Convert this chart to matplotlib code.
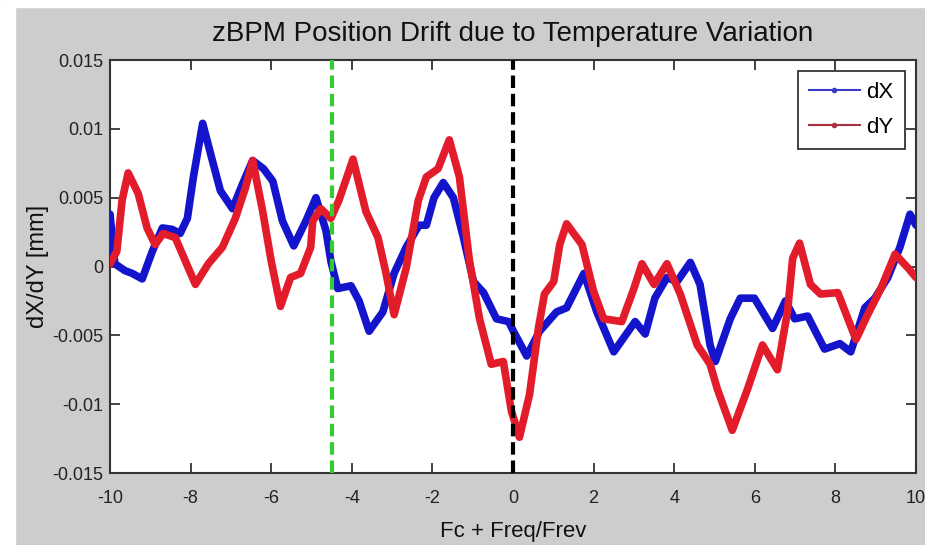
import numpy as np
import matplotlib.pyplot as plt
from matplotlib.lines import Line2D
from matplotlib.patches import Rectangle

# ---------------------data---------------------
x_dx = [-10, -9.88, -9.63, -9.45, -9.2, -8.95, -8.7, -8.46, -8.26, -8.08, -7.93, -7.7,
        -7.46, -7.26, -6.96, -6.71, -6.46, -6.19, -5.96, -5.72, -5.44, -5.14, -4.89,
        -4.64, -4.52, -4.35, -4.02, -3.82, -3.57, -3.23, -2.95, -2.65, -2.33, -2.15,
        -1.96, -1.73, -1.48, -1.23, -0.98, -0.73, -0.41, -0.11, 0.01, 0.34, 0.66, 1.08,
        1.33, 1.76, 2.08, 2.5, 3.03, 3.28, 3.52, 3.82, 4.07, 4.4, 4.64, 4.89, 5.02,
        5.39, 5.64, 5.99, 6.44, 6.76, 6.99, 7.31, 7.73, 8.11, 8.38, 8.73, 8.98, 9.3,
        9.6, 9.85, 10]
dx = [0.0038, 0.0002, -0.0003, -0.0005, -0.0009, 0.0011, 0.0028, 0.0027, 0.0024,
      0.0035, 0.0065, 0.0104, 0.0077, 0.0055, 0.0042, 0.006, 0.0077, 0.0071, 0.0062,
      0.0033, 0.0015, 0.0033, 0.005, 0.0026, 0.0004, -0.0016, -0.0014, -0.0025,
      -0.0047, -0.0033, -0.0005, 0.0014, 0.003, 0.003, 0.005, 0.0061, 0.005, 0.0021,
      -0.0011, -0.0019, -0.0038, -0.004, -0.0047, -0.0065, -0.0047, -0.0033, -0.003,
      -0.0005, -0.0033, -0.0062, -0.004, -0.0049, -0.0023, -0.0008, -0.0011, 0.0003,
      -0.0013, -0.0057, -0.0069, -0.0038, -0.0023, -0.0023, -0.0045, -0.0025, -0.0038,
      -0.0036, -0.006, -0.0056, -0.0062, -0.003, -0.0023, -0.0008, 0.0014, 0.0038,
      0.003]

x_dy = [-10, -9.83, -9.7, -9.55, -9.3, -9.08, -8.88, -8.68, -8.38, -8.13, -7.88, -7.56,
        -7.21, -6.89, -6.64, -6.46, -6.21, -6.0, -5.77, -5.52, -5.27, -5.02, -4.97,
        -4.77, -4.52, -4.32, -3.97, -3.65, -3.35, -3.15, -2.95, -2.65, -2.35, -2.15,
        -1.86, -1.58, -1.33, -1.08, -0.83, -0.54, -0.24, -0.04, 0.16, 0.41, 0.63, 0.78,
        1.01, 1.16, 1.33, 1.71, 2.0, 2.25, 2.7, 3.0, 3.2, 3.5, 3.82, 4.15, 4.57, 4.89,
        5.07, 5.44, 5.82, 6.19, 6.56, 6.81, 6.94, 7.11, 7.38, 7.63, 8.06, 8.31, 8.51,
        8.8, 9.13, 9.48, 9.8, 10]
dy = [0.0002, 0.0011, 0.0048, 0.0068, 0.0053, 0.0028, 0.0016, 0.0024, 0.0021, 0.0004,
      -0.0013, 0.0002, 0.0014, 0.0035, 0.0057, 0.0077, 0.004, 0.0004, -0.0029, -0.0008,
      -0.0005, 0.0014, 0.0033, 0.0042, 0.0035, 0.0048, 0.0078, 0.004, 0.0021, -0.0005,
      -0.0035, -0.0001, 0.0048, 0.0065, 0.0071, 0.0092, 0.0065, 0.0004, -0.0038,
      -0.0071, -0.0069, -0.0105, -0.0124, -0.0093, -0.0045, -0.002, -0.0011, 0.0016,
      0.0031, 0.0016, -0.0018, -0.0038, -0.004, -0.0016, 0.0002, -0.0013, 0.0002,
      -0.002, -0.0057, -0.0071, -0.0089, -0.0119, -0.0089, -0.0057, -0.0075, -0.0033,
      0.0006, 0.0017, -0.0013, -0.002, -0.0019, -0.0038, -0.0053, -0.0035, -0.0016,
      0.0009, -0.0001, -0.0008]

x_ticks = [-10, -8, -6, -4, -2, 0, 2, 4, 6, 8, 10]
y_ticks = [-0.015, -0.01, -0.005, 0, 0.005, 0.01, 0.015]
y_tick_labels = ['-0.015', '-0.01', '-0.005', '0', '0.005', '0.01', '0.015']
green_line = -4.5
black_line = 0

plt.rcParams['font.family'] = ['Liberation Sans', 'DejaVu Sans']

fig = plt.figure(figsize=(9.25, 5.45), dpi=100, facecolor='#cdcdcd')
# white strips at top and left of the screenshot
fig.patches.append(Rectangle((0, 0.987), 1, 0.013, transform=fig.transFigure,
                             color='white', zorder=-1))
fig.patches.append(Rectangle((0, 0), 0.016, 1, transform=fig.transFigure,
                             color='white', zorder=-1))
ax = fig.add_axes([0.1189, 0.1321, 0.8714, 0.7578])

ax.plot(x_dx, dx, color='#1414cc', lw=5.5, solid_joinstyle='round',
        solid_capstyle='round', zorder=3)
ax.plot(x_dy, dy, color='#e21c2a', lw=5.5, solid_joinstyle='round',
        solid_capstyle='round', zorder=3)
ax.axvline(green_line, color='#33cc33', lw=3, dashes=(3, 1.4), zorder=4)
ax.axvline(black_line, color='black', lw=3, dashes=(3, 1.4), zorder=4)

ax.set_xlim(-10, 10)
ax.set_ylim(-0.015, 0.015)
ax.set_xticks(x_ticks)
ax.set_xticklabels([str(t) for t in x_ticks])
ax.set_yticks(y_ticks)
ax.set_yticklabels(y_tick_labels)
ax.tick_params(direction='in', length=7, width=1.2, top=True, right=True,
               labelsize=13, colors='#222222')
ax.tick_params(axis='x', pad=12)
ax.tick_params(axis='y', pad=5)
for s in ax.spines.values():
    s.set_color('#333333')
    s.set_linewidth(1.5)

ax.set_title('zBPM Position Drift due to Temperature Variation', fontsize=20,
             color='#111111', pad=14)
ax.set_xlabel('Fc + Freq/Frev', fontsize=16, color='#111111', labelpad=10)
ax.set_ylabel('dX/dY [mm]', fontsize=17, color='#111111')
ax.yaxis.set_label_coords(-0.076, 0.5)

handles = [Line2D([], [], color='#3a3ac8', lw=1.5, marker='.', markersize=6),
           Line2D([], [], color='#a83040', lw=1.5, marker='.', markersize=6)]
leg = ax.legend(handles, ['dX', 'dY'], loc='upper right', fontsize=16,
                fancybox=False, edgecolor='#222222', framealpha=1,
                handlelength=2.3, handletextpad=0.3, borderaxespad=0.5,
                labelspacing=0.6, borderpad=0.5)
leg.get_frame().set_linewidth(1.2)

fig.savefig('out.png', dpi=100, facecolor=fig.get_facecolor())
